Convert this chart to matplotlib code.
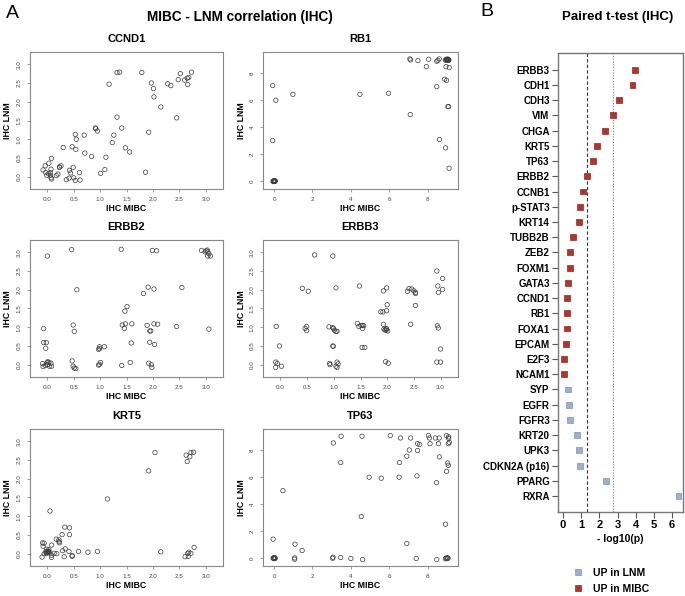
import matplotlib
matplotlib.use("Agg")
import matplotlib.pyplot as plt
from matplotlib.lines import Line2D
import numpy as np

plt.rcParams['font.family'] = ['Liberation Sans', 'DejaVu Sans']

# ---- Panel A data: IHC scores (MIBC, LNM) per marker
ccnd1_mibc = [1.32, 1.37, 1.79, 1.17, 1.97, 2.01, 2.02, 2.15, 2.28, 2.34, 2.48, 2.52, 2.60, 2.65, 2.68,
              2.66, 2.73, 2.45, 1.32, 1.41, 0.91, 0.92, 0.95, 1.26, 1.23, 1.48, 1.56, 1.92, 1.86, 0.53,
              0.55, 0.70, 0.54, 0.47, 0.30, 0.71, 0.84, 1.11, 1.09, 1.01, 0.08, 0.03, -0.04, -0.08, -0.03,
              0.02, 0.06, -0.01, 0.06, 0.07, 0.08, 0.07, 0.17, 0.20, 0.23, 0.26, 0.23, 0.42, 0.44, 0.49,
              0.50, 0.41, 0.36, 0.53, 0.61, 0.62]
ccnd1_lnm = [2.78, 2.79, 2.78, 2.47, 2.50, 2.35, 2.13, 1.86, 2.48, 2.43, 2.59, 2.75, 2.58, 2.63, 2.65,
             2.46, 2.79, 1.57, 1.59, 1.30, 1.30, 1.28, 1.22, 1.11, 0.91, 0.77, 0.66, 1.19, 0.12, 1.13,
             1.00, 1.11, 0.73, 0.80, 0.78, 0.63, 0.54, 0.52, 0.19, 0.09, 0.49, 0.36, 0.29, 0.18, 0.11,
             0.08, 0.11, 0.04, 0.04, 0.20, -0.06, -0.03, 0.03, 0.07, 0.25, 0.29, 0.26, 0.17, 0.10, 0.25,
             -0.03, -0.04, -0.08, -0.10, 0.11, -0.09]

rb1_mibc = [-0.07, 0.09, 0.98, 4.47, 5.96, -0.07, -0.05, 0.00, 0.03, -0.02, 0.05, 0.02, -0.04, 0.06,
            7.07, 7.11, 7.49, 7.93, 8.05, 8.47, 8.53, 8.60, 7.09, 8.47, 8.88, 8.98, 8.95, 9.12, 9.09,
            9.05, 8.61, 8.93, 9.11, 8.95, 9.00, 9.03, 9.07, 8.98, 9.05, 9.10, 8.92, 9.00, 9.08]
rb1_lnm = [7.09, 6.00, 6.44, 6.44, 6.52, 3.01, 0.00, -0.02, 0.02, 0.03, -0.01, 0.00, -0.03, 0.03,
           9.06, 8.99, 8.94, 8.49, 9.04, 8.89, 8.96, 9.06, 4.94, 7.01, 7.56, 7.48, 8.49, 8.42, 5.53,
           5.53, 3.09, 2.47, 0.96, 9.00, 8.97, 9.02, 8.98, 9.04, 9.05, 9.00, 8.98, 9.03, 8.95]

erbb2_mibc = [0.00, 0.46, 1.40, 1.99, 2.07, 2.92, 3.01, 3.03, 3.04, 2.99, 3.06, 3.04, 3.09, 0.56, 1.91,
              2.02, 1.82, 2.55, 1.51, 1.47, -0.07, 0.49, 0.51, 1.42, 1.48, 1.46, 1.60, 1.89, 2.02, 2.09,
              2.45, 1.94, 1.96, 3.06, -0.07, -0.02, -0.03, 0.99, 0.99, 0.97, 1.08, 1.59, 1.94, 2.03,
              -0.09, -0.08, -0.04, -0.01, 0.01, 0.03, 0.00, 0.04, 0.07, 0.08, 0.47, 0.49, 0.51, 0.54,
              0.99, 1.01, 0.97, 1.41, 1.57, 1.92, 1.97, 1.98]
erbb2_lnm = [2.90, 3.07, 3.08, 3.05, 3.04, 3.05, 3.04, 3.06, 3.01, 3.01, 2.96, 2.90, 2.90, 2.00, 2.07,
             2.02, 1.90, 2.06, 1.55, 1.43, 0.96, 1.06, 0.89, 1.06, 1.09, 0.97, 1.09, 1.05, 1.09, 1.08,
             1.02, 0.90, 0.90, 0.95, 0.59, 0.59, 0.44, 0.48, 0.43, 0.41, 0.48, 0.58, 0.60, 0.54,
             0.03, -0.05, -0.02, 0.05, 0.08, 0.06, 0.00, -0.04, 0.04, -0.04, 0.10, -0.04, -0.09, -0.10,
             0.01, 0.06, -0.01, -0.02, 0.06, 0.04, 0.00, -0.07]

erbb3_mibc = [0.64, 0.98, 0.41, 0.52, 1.04, 1.48, 1.93, 1.99, 2.00, 1.99, 1.88, 1.92, 2.38, 2.41, 2.46,
              2.50, 2.53, 2.53, 2.53, 2.44, 2.93, 3.04, 2.95, 2.96, 3.04, 2.94, 2.96, 3.00, 2.93, 3.00,
              -0.08, -0.02, -0.09, -0.06, -0.09, 0.02, 0.46, 0.49, 0.49, 0.91, 0.98, 0.99, 1.01, 1.04,
              1.06, 0.98, 0.99, 0.92, 0.93, 1.06, 1.08, 1.04, 1.06, 1.44, 1.47, 1.51, 1.54, 1.56, 1.54,
              1.53, 1.58, 1.93, 1.94, 1.96, 1.98, 1.98, 1.99, 2.01, 1.97, 2.02]
erbb3_lnm = [2.93, 2.90, 2.04, 1.96, 2.05, 2.10, 1.97, 2.05, 1.60, 1.44, 1.41, 1.41, 1.96, 2.03, 2.02,
             1.97, 1.93, 1.90, 1.58, 1.08, 2.50, 2.30, 2.10, 1.93, 2.01, 1.04, 0.98, 0.42, 0.07, 0.07,
             1.02, 0.50, 0.07, 0.03, -0.07, -0.04, 0.97, 1.02, 0.91, 1.01, 0.99, 0.97, 0.92, 0.89,
             0.89, 0.50, 0.49, 0.03, 0.00, 0.07, 0.02, -0.04, -0.07, 1.10, 1.02, 1.05, 1.05, 1.04, 0.97,
             0.46, 0.46, 1.08, 0.95, 0.93, 0.96, 0.92, 0.96, 0.90, 0.08, 0.04]

krt5_mibc = [2.04, 1.92, 2.63, 2.72, 2.77, 2.70, 2.65, 1.14, 0.05, 0.33, 0.42, 0.42, 0.28, 0.22, 0.22,
             0.23, 0.17, 0.08, -0.09, -0.06, -0.08, -0.10, -0.06, -0.03, -0.01, 0.03, -0.02, 0.02, 0.04,
             0.00, 0.01, -0.01, 0.03, 0.08, 0.08, 0.13, 0.18, 0.29, 0.34, 0.32, 0.41, 0.47, 0.47, 0.59,
             0.77, 0.95, 2.15, 2.61, 2.66, 2.68, 2.72, 2.67, 2.78]
krt5_lnm = [2.70, 2.21, 2.63, 2.70, 2.71, 2.59, 2.46, 1.46, 1.14, 0.71, 0.69, 0.51, 0.51, 0.37, 0.32,
            0.29, 0.39, 0.23, 0.29, 0.28, 0.20, -0.09, 0.00, 0.05, 0.12, 0.11, 0.01, 0.05, 0.02,
            0.04, 0.07, 0.03, 0.06, -0.10, -0.04, 0.01, 0.00, 0.08, 0.13, -0.08, 0.06, -0.05, -0.07, 0.06,
            0.04, 0.06, 0.05, -0.08, 0.01, 0.04, 0.01, -0.07, 0.17]

tp63_mibc = [-0.05, 0.46, 1.09, 1.46, 1.07, 1.07, -0.05, 0.00, 0.04, -0.03, 0.06, 0.02,
             3.09, 3.49, 3.47, 4.58, 4.54, 4.95, 5.58, 3.05, 3.07, 3.47, 4.00, 4.61, 6.05, 6.58, 7.11,
             7.04, 6.91, 6.53, 6.51, 6.91, 7.44, 7.40, 7.47, 7.58, 7.47, 8.04, 8.09, 8.12, 8.40, 8.60,
             8.56, 8.61, 8.46, 8.47, 8.98, 9.09, 9.07, 9.12, 9.04, 9.07, 8.98, 8.93, 9.09,
             8.92, 8.96, 9.00, 9.03, 9.06]
tp63_lnm = [1.41, 5.01, 1.04, 0.57, 0.02, -0.07, 0.00, -0.03, 0.03, 0.02, -0.01, 0.04,
            8.54, 9.04, 7.09, 9.04, 3.09, 6.00, 5.93, 0.00, 0.07, 0.05, -0.02, -0.10, 9.09, 8.91, 8.91,
            8.02, 7.56, 7.09, 6.00, 1.09, 6.10, -0.02, 8.49, 8.42, 7.98, 9.09, 8.91, 8.49, 8.91, 8.91,
            8.49, 7.51, 5.60, -0.10, 9.09, 8.99, 8.49, 8.59, 7.06, 6.89, 6.44, 2.52, 8.89,
            -0.04, 0.02, -0.02, 0.03, 0.00]

# ---- Panel B data: paired t-test, -log10(p), top to bottom
genes = ['ERBB3', 'CDH1', 'CDH3', 'VIM', 'CHGA', 'KRT5', 'TP63', 'ERBB2', 'CCNB1', 'p-STAT3',
         'KRT14', 'TUBB2B', 'ZEB2', 'FOXM1', 'GATA3', 'CCND1', 'RB1', 'FOXA1', 'EPCAM', 'E2F3',
         'NCAM1', 'SYP', 'EGFR', 'FGFR3', 'KRT20', 'UPK3', 'CDKN2A (p16)', 'PPARG', 'RXRA']
neglog_p = [3.95, 3.82, 3.07, 2.76, 2.32, 1.88, 1.66, 1.32, 1.08, 0.91, 0.86, 0.53, 0.37, 0.37,
            0.26, 0.22, 0.22, 0.20, 0.18, 0.04, 0.04, 0.29, 0.31, 0.38, 0.79, 0.86, 0.95, 2.34, 6.35]
up_in = ['MIBC'] * 21 + ['LNM'] * 8

RED = '#B0352D'
BLUE = '#9DB0CD'
W, H = 685, 596


def px_axes(fig, l, t, r, b):
    return fig.add_axes([l / W, 1 - b / H, (r - l) / W, (b - t) / H])


def scatter_panel(fig, box, x, y, title, lim, ticks, ticklabels):
    ax = px_axes(fig, *box)
    ax.scatter(x, y, s=10, facecolors='none', edgecolors='#3a3a3a', linewidths=0.5)
    ax.set_xlim(lim)
    ax.set_ylim(lim)
    ax.set_xticks(ticks)
    ax.set_xticklabels(ticklabels)
    ax.set_yticks(ticks)
    ax.set_yticklabels(ticklabels, rotation=90, va='center')
    ax.tick_params(labelsize=4.5, labelcolor='#444444', color='#777777', length=2.5, width=0.5, pad=3.5)
    for s in ax.spines.values():
        s.set_color('#888888')
        s.set_linewidth(0.8)
    ax.set_title(title, fontsize=8, fontweight='bold', pad=7)
    ax.set_xlabel('IHC MIBC', fontsize=6.3, fontweight='bold', labelpad=1.5)
    ax.set_ylabel('IHC LNM', fontsize=6.3, fontweight='bold', labelpad=3)
    return ax


fig = plt.figure(figsize=(6.85, 5.96), dpi=100)

lim3 = (-0.328, 3.328)
t3 = [0, 0.5, 1, 1.5, 2, 2.5, 3]
l3 = ['0.0', '0.5', '1.0', '1.5', '2.0', '2.5', '3.0']
lim9 = (-0.576, 9.576)
t9 = [0, 2, 4, 6, 8]
l9 = ['0', '2', '4', '6', '8']

scatter_panel(fig, (30, 52, 223, 189), ccnd1_mibc, ccnd1_lnm, 'CCND1', lim3, t3, l3)
scatter_panel(fig, (263, 52, 458, 189), rb1_mibc, rb1_lnm, 'RB1', lim9, t9, l9)
scatter_panel(fig, (30, 240, 223, 377), erbb2_mibc, erbb2_lnm, 'ERBB2', lim3, t3, l3)
scatter_panel(fig, (263, 240, 458, 377), erbb3_mibc, erbb3_lnm, 'ERBB3', lim3, t3, l3)
scatter_panel(fig, (30, 429, 223, 566), krt5_mibc, krt5_lnm, 'KRT5', lim3, t3, l3)
scatter_panel(fig, (263, 429, 458, 566), tp63_mibc, tp63_lnm, 'TP63', lim9, t9, l9)

fig.text(6 / W, 1 - 13 / H, 'A', fontsize=14, va='center', ha='left')
fig.text(240 / W, 1 - 17 / H, 'MIBC - LNM correlation (IHC)', fontsize=9.8, fontweight='bold',
         ha='center', va='center')

# ---- Panel B
axb = px_axes(fig, 558, 53, 683, 512)
ypos = np.arange(len(genes))[::-1]
cols = [RED if u == 'MIBC' else BLUE for u in up_in]
edges = ['#8E2A23' if u == 'MIBC' else '#7E93B3' for u in up_in]
axb.scatter(neglog_p, ypos, marker='s', s=18, c=cols, edgecolors=edges, linewidths=0.5, zorder=3)
axb.axvline(-np.log10(0.05), color='#333333', lw=0.8, ls=(0, (3, 2)))
axb.axvline(-np.log10(0.05 / len(genes)), color='#777777', lw=0.8, ls=(0, (1, 1.5)))
axb.set_xlim(-0.28, 6.6)
axb.set_ylim(-1.05, len(genes) - 1 + 1.1)
axb.set_yticks(ypos)
axb.set_yticklabels(genes)
axb.set_xticks(range(7))
axb.tick_params(axis='y', labelsize=7, length=4, width=0.8, color='#555555', pad=2)
axb.tick_params(axis='x', labelsize=8, length=4, width=0.8, color='#555555', pad=2)
for lab in axb.get_yticklabels() + axb.get_xticklabels():
    lab.set_fontweight('bold')
for s in axb.spines.values():
    s.set_color('#777777')
    s.set_linewidth(1.0)
axb.set_xlabel('- log10(p)', fontsize=7.5, fontweight='bold', labelpad=3)

fig.text(480 / W, 1 - 12 / H, 'B', fontsize=14, va='center', ha='left')
fig.text(618 / W, 1 - 17 / H, 'Paired t-test (IHC)', fontsize=9.5, fontweight='bold',
         ha='center', va='center')

handles = [Line2D([], [], marker='s', ls='none', markersize=4.5, markerfacecolor=BLUE,
                  markeredgecolor='#7E93B3', markeredgewidth=0.5),
           Line2D([], [], marker='s', ls='none', markersize=4.5, markerfacecolor=RED,
                  markeredgecolor='#8E2A23', markeredgewidth=0.5)]
fig.legend(handles, ['UP in LNM', 'UP in MIBC'], loc='center left',
           bbox_to_anchor=(558 / W, 1 - 581 / H), frameon=False, handletextpad=0.5,
           labelspacing=0.55, prop={'size': 7.5, 'weight': 'bold'})

fig.savefig('out.png', dpi=100)
